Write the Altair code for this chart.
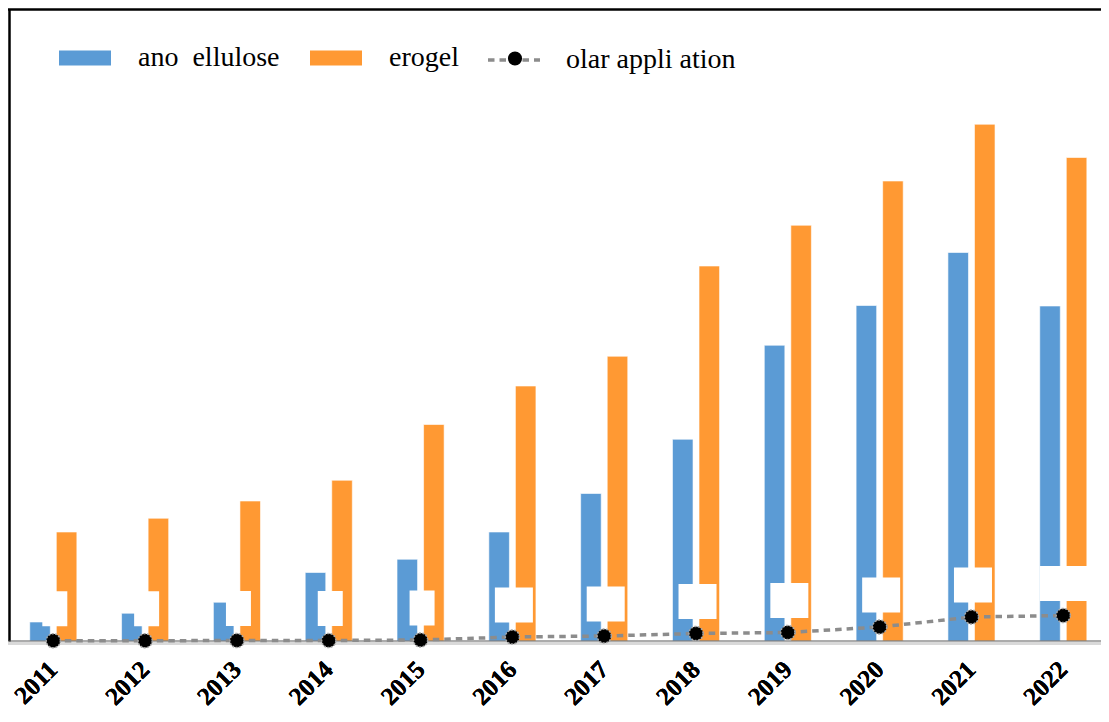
import altair as alt
import pandas as pd

# ---- data ----
years = ["2011", "2012", "2013", "2014", "2015", "2016",
         "2017", "2018", "2019", "2020", "2021", "2022"]
nano_cellulose = [76, 111, 155, 274, 327, 436, 590, 807, 1183, 1342, 1554, 1340]
aerogel = [436, 491, 560, 643, 866, 1020, 1139, 1500, 1663, 1840, 2067, 1934]
solar_application = [1, 1, 2, 2, 4, 16, 20, 30, 34, 56, 96, 102]

series_names = ["ano\u00a0 ellulose", "erogel"]
line_name = "olar appli ation"
bar_colors = ["#5B9BD5", "#FF9933"]

bars_df = pd.DataFrame({
    "year": years * 2,
    "series": [series_names[0]] * len(years) + [series_names[1]] * len(years),
    "value": nano_cellulose + aerogel,
})
line_df = pd.DataFrame({
    "year": years,
    "value": solar_application,
    "lname": [line_name] * len(years),
    "pname": [line_name] * len(years),
})
zero_df = pd.DataFrame({"v": [0]})

FONT = "Liberation Serif"

# the category band runs slightly past the visible plot on the right
x_scale = alt.Scale(domain=years, paddingInner=0.487, paddingOuter=0.2435,
                    range=[-1.6, 1100.2])
y_scale = alt.Scale(domain=[0, 2528], nice=False, zero=True)

x_axis_bottom = alt.Axis(title=None, orient="bottom", labelAngle=-45, labelAlign="right",
                         labelBaseline="middle", labelFont=FONT, labelFontWeight="bold",
                         labelFontSize=25, labelColor="black", ticks=False,
                         domainColor="#d9d9d9", domainWidth=3, offset=2,
                         labelPadding=22, labelOverlap=False, labelBound=False,
                         labelFlush=False)
x_axis_top = alt.Axis(title=None, orient="top", labels=False, ticks=False,
                      domainColor="black", domainWidth=2.5, grid=False)
y_axis = alt.Axis(title=None, labels=False, ticks=False, grid=False,
                  domainColor="black", domainWidth=2.5)

X = alt.X("year:N", scale=x_scale, axis=x_axis_bottom)
Y = alt.Y("value:Q", scale=y_scale, axis=y_axis)

bars = alt.Chart(bars_df).mark_bar(stroke="white", strokeWidth=0.6).encode(
    x=X,
    xOffset=alt.XOffset("series:N", scale=alt.Scale(domain=series_names,
                                                    paddingInner=0.226, paddingOuter=0)),
    y=Y,
    color=alt.Color("series:N",
                    scale=alt.Scale(domain=series_names, range=bar_colors),
                    legend=alt.Legend(orient="none", legendX=50, legendY=23,
                                      direction="horizontal", title=None,
                                      symbolType="M-1,-0.29H1V0.29H-1Z",
                                      symbolSize=2704, symbolStrokeWidth=0,
                                      symbolOpacity=1,
                                      labelFont=FONT, labelFontSize=28,
                                      labelColor="black", labelOffset=27,
                                      columnPadding=30, padding=0,
                                      labelLimit=400)),
)

baseline = alt.Chart(zero_df).mark_rule(color="#595959", strokeWidth=1).encode(
    y=alt.Y("v:Q", scale=y_scale, axis=y_axis)
)

# white label boxes of the solar series (labels without visible text)
box_shapes = ["M-0.714,-1H0.714V1H-0.714Z",
              "M-1.086,-1H1.086V1H-1.086Z",
              "M-1.43,-1H1.43V1H-1.43Z"]
boxes = alt.Chart(line_df).transform_calculate(
    digits="'d' + length(toString(datum.value))"
).mark_point(filled=True, fill="white", opacity=1, size=1225,
             yOffset=-32, xOffset=1.5, strokeWidth=0).encode(
    x=X,
    y=Y,
    shape=alt.Shape("digits:N",
                    scale=alt.Scale(domain=["d1", "d2", "d3"], range=box_shapes),
                    legend=None),
)

line = alt.Chart(line_df).mark_line(color="#8c8c8c", strokeWidth=3.5).encode(
    x=alt.X("year:N", scale=x_scale, axis=x_axis_top),
    y=Y,
    strokeDash=alt.StrokeDash("lname:N",
                              scale=alt.Scale(domain=[line_name], range=[[6.5, 5]]),
                              legend=alt.Legend(orient="none", legendX=477, legendY=23,
                                                title=None, symbolType="stroke",
                                                symbolSize=2704,
                                                symbolStrokeColor="#8c8c8c",
                                                symbolStrokeWidth=3.5,
                                                labelFont=FONT, labelFontSize=28,
                                                labelColor="black", labelOffset=24,
                                                padding=0, labelLimit=400)),
)

points = alt.Chart(line_df).mark_point(filled=True, fill="black", stroke="#a6a6a6",
                                       strokeWidth=1.5, strokeDash=[2, 1.5],
                                       size=200, opacity=1).encode(
    x=X,
    y=Y,
    shape=alt.Shape("pname:N",
                    scale=alt.Scale(domain=[line_name], range=["circle"]),
                    legend=alt.Legend(orient="none", legendX=498, legendY=41.5,
                                      title=None, symbolFillColor="black",
                                      symbolStrokeColor="#a6a6a6",
                                      symbolStrokeWidth=1.5, symbolDash=[2, 1.5],
                                      symbolSize=200, labelExpr="''",
                                      labelFontSize=1, labelOffset=0,
                                      padding=0)),
)

chart = alt.layer(bars, baseline, boxes, line, points).resolve_scale(
    shape="independent"
).properties(
    width=1092,
    height=632,
    padding={"left": 1, "top": 1, "right": 0, "bottom": 69},
    autosize=alt.AutoSizeParams(type="none"),
    background="white",
).configure_view(stroke=None)

chart.save("out.html", embed_options={"renderer": "svg", "actions": False})
